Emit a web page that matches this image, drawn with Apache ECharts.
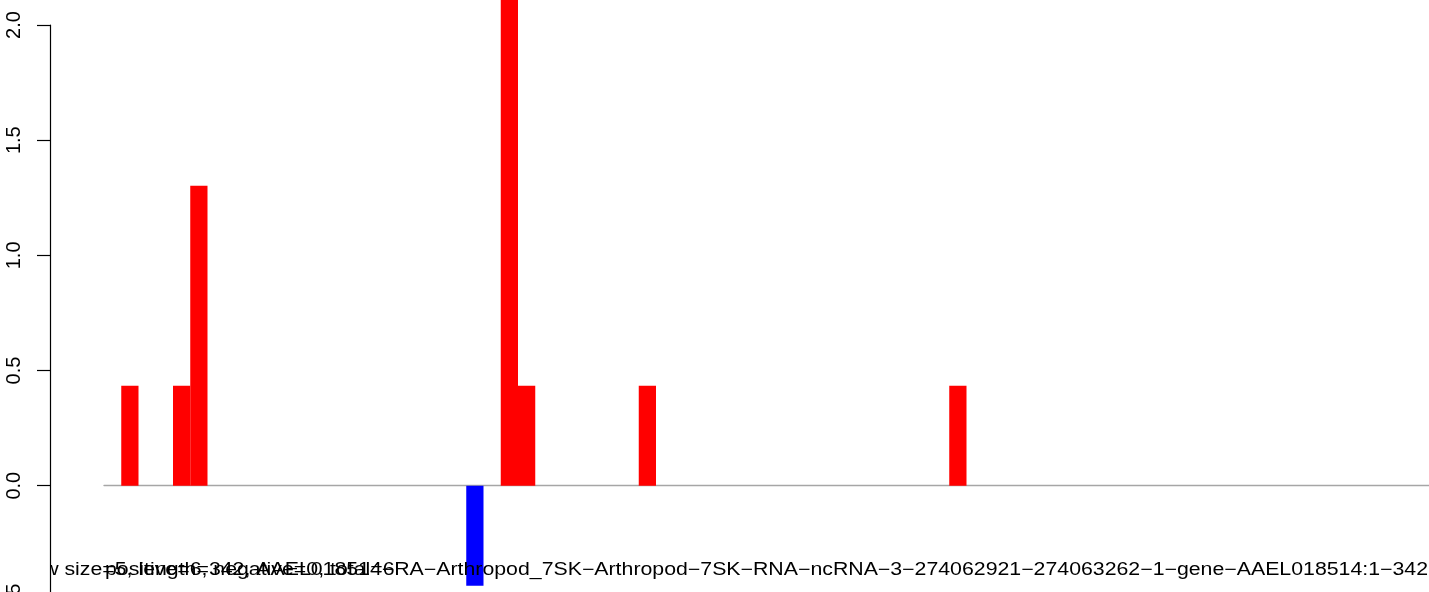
<!DOCTYPE html>
<html>
<head>
<meta charset="utf-8">
<script src="https://cdn.jsdelivr.net/npm/echarts@6/dist/echarts.min.js"></script>
<style>
html,body{margin:0;padding:0;background:#fff;}
#chart{width:1429px;height:592px;}
</style>
</head>
<body>
<div id="chart"></div>
<script>
// Bar positions (window index) and heights
const positions = [];
for (let i = 0; i < 77; i++) positions.push(String(i + 1));
const values = [
  0, 0.434, 0, 0, 0.434, 1.302, 0, 0, 0, 0,
  0, 0, 0, 0, 0, 0, 0, 0, 0, 0,
  0, -0.434, 0, 2.17, 0.434, 0, 0, 0, 0, 0,
  0, 0.434, 0, 0, 0, 0, 0, 0, 0, 0,
  0, 0, 0, 0, 0, 0, 0, 0, 0, 0.434,
  0, 0, 0, 0, 0, 0, 0, 0, 0, 0,
  0, 0, 0, 0, 0, 0, 0, 0, 0, 0,
  0, 0, 0, 0, 0, 0, 0
];
const yTicks = [-0.5, 0, 0.5, 1.0, 1.5, 2.0];
const titleText = "window size=5, length=342, AAEL018514\u2212RA\u2212Arthropod_7SK\u2212Arthropod\u22127SK\u2212RNA\u2212ncRNA\u22123\u2212274062921\u2212274063262\u22121\u2212gene\u2212AAEL018514:1\u2212342";
const countText = "positive=6, negative=0, total=6";

const FONT = '"Liberation Sans", Arial, Helvetica, sans-serif';
const chart = echarts.init(document.getElementById('chart'));
chart.setOption({
  animation: false,
  backgroundColor: '#ffffff',
  grid: { left: 104, top: 25, width: 77 * 17.25, height: 2.5 * 230.35, containLabel: false, outerBoundsMode: 'none' },
  xAxis: {
    type: 'category',
    data: positions,
    boundaryGap: true,
    axisLine: { show: true, onZero: true, lineStyle: { color: '#a6a6a6', width: 1.4 } },
    axisTick: { show: false },
    axisLabel: { show: false },
    splitLine: { show: false }
  },
  yAxis: {
    type: 'value',
    min: yTicks[0],
    max: yTicks[yTicks.length - 1],
    interval: 0.5,
    offset: 54,
    z: 10,
    axisLine: { show: true, lineStyle: { color: '#000', width: 1.2 } },
    axisTick: { show: true, length: 13, inside: false, lineStyle: { color: '#000', width: 1.2 } },
    axisLabel: {
      show: true, rotate: 90, margin: 26,
      fontFamily: FONT, fontSize: 20, color: '#000',
      formatter: v => v.toFixed(1)
    },
    splitLine: { show: false }
  },
  series: [{
    type: 'bar',
    data: values,
    barWidth: '100%',
    clip: false,
    itemStyle: { color: p => (p.value < 0 ? '#0000ff' : '#ff0000') }
  }],
  graphic: [
    {
      type: 'text', z: 4, x: 1428, y: 570, scaleX: 1.217,
      style: { text: titleText, font: '17.5px ' + FONT, fill: '#000', align: 'right', verticalAlign: 'middle' }
    },
    {
      type: 'text', z: 4, x: 105, y: 570, scaleX: 1.217,
      style: { text: countText, font: '17.5px ' + FONT, fill: '#000', align: 'left', verticalAlign: 'middle' }
    },
    {
      type: 'rect', z: 5, shape: { x: 0, y: 550, width: 50, height: 42 },
      style: { fill: '#ffffff' }
    }
  ]
});
</script>
</body>
</html>
